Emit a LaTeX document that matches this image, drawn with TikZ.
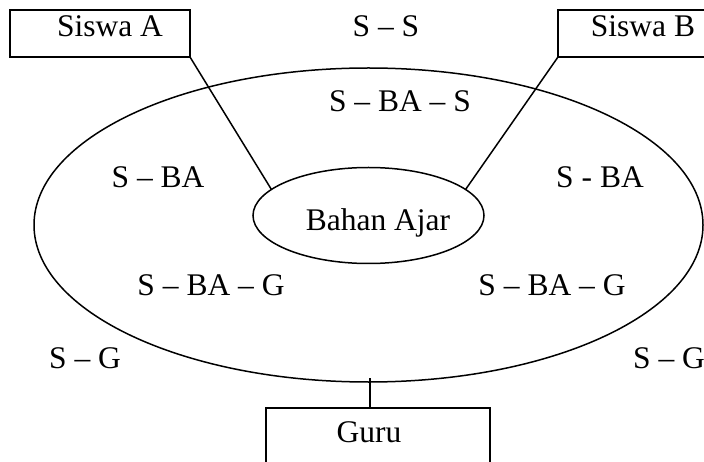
\documentclass[tikz,border=0pt]{standalone}
\usepackage{fontspec}
\setmainfont{Liberation Serif}
\usetikzlibrary{shapes.geometric}
\begin{document}
\begin{tikzpicture}[x=1pt,y=-1pt,
  lw/.style={line width=1.5pt},
  box/.style={draw,lw,rectangle,inner sep=0pt,outer sep=0pt},
  oval/.style={draw,lw,ellipse,inner sep=0pt,outer sep=0pt},
  txt/.style={anchor=base,inner sep=0pt,font=\fontsize{31.5}{36}\selectfont}]
\useasboundingbox (0,0) rectangle (704,462);
\node[oval,minimum width=669pt,minimum height=314pt] (ring) at (368.5,225) {};
\node[oval,minimum width=231pt,minimum height=96pt] (be) at (368.5,215.5) {};
\node[box,minimum width=180pt,minimum height=47pt] (sa) at (100,33.5) {};
\node[box,minimum width=164pt,minimum height=47pt] (sb) at (640,33.5) {};
\node[box,minimum width=224pt,minimum height=72pt] (gu) at (378,444) {};
\draw[lw] (sa.south east) -- (be.165.5);
\draw[lw] (sb.south west) -- (be.15);
\coordinate (tk) at (370,378);
\draw[lw] (tk) -- (tk |- gu.north);
\node[txt] (tsa) at (110,37) {Siswa A};
\node[txt] (tsb) at (643,37) {Siswa B};
\node[txt] (tss) at (386,37) {S – S};
\node[txt] (tbs) at (400,112) {S – BA – S};
\node[txt] (tl1) at (158,188) {S – BA};
\node[txt] (tr1) at (600,188) {S - BA};
\node[txt] (tba) at (378,231) {Bahan Ajar};
\node[txt] (tl2) at (211,295) {S – BA – G};
\node[txt] (tr2) at (552,295) {S – BA – G};
\node[txt] (tl3) at (85,368) {S – G};
\node[txt] (tr3) at (669,368) {S – G};
\node[txt] (tgu) at (369,442) {Guru};
\end{tikzpicture}
\end{document}
